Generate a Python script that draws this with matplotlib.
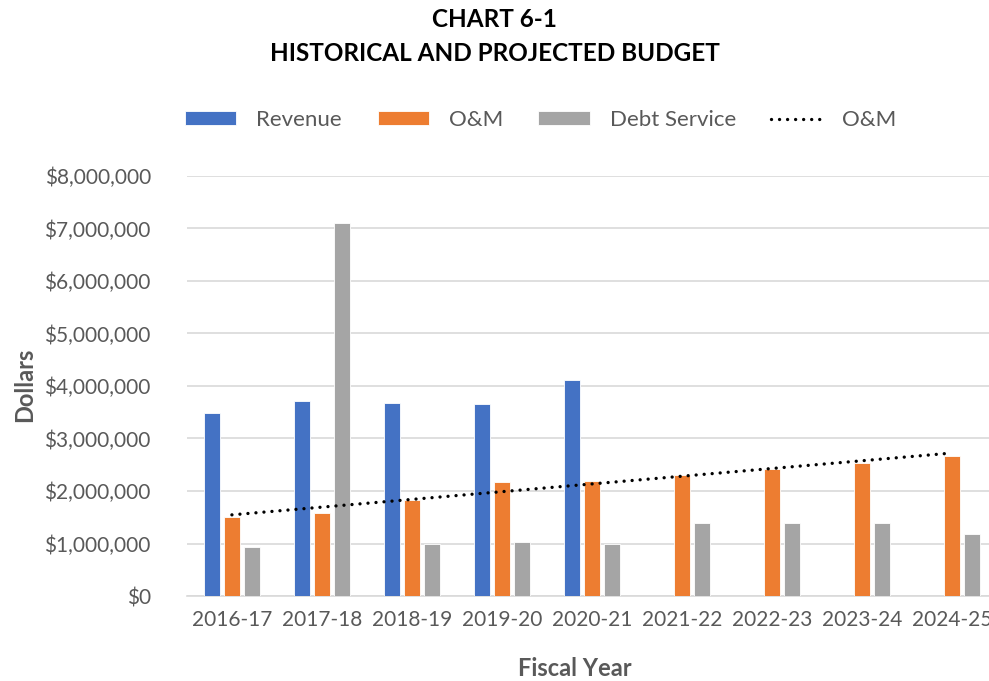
import matplotlib.pyplot as plt
import matplotlib.ticker as mticker
import numpy as np

plt.rcParams['font.family'] = ['Lato', 'DejaVu Sans']

years = ['2016-17', '2017-18', '2018-19', '2019-20', '2020-21',
         '2021-22', '2022-23', '2023-24', '2024-25']
revenue = [3480000, 3710000, 3680000, 3660000, 4110000, np.nan, np.nan, np.nan, np.nan]
om = [1510000, 1580000, 1830000, 2170000, 2190000, 2300000, 2420000, 2540000, 2670000]
debt = [930000, 7100000, 990000, 1030000, 990000, 1390000, 1390000, 1390000, 1190000]

text_gray = '#595959'
grid_gray = '#D9D9D9'

fig = plt.figure(figsize=(9.89, 6.81), dpi=100)
ax = fig.add_axes([0.189, 0.1248, 0.819, 0.6168])

x = np.arange(len(years))
w = 0.178
off = 0.222
b1 = ax.bar(x - off, revenue, w, color='#4472C4', edgecolor='white', linewidth=0.6, zorder=3)
b2 = ax.bar(x, om, w, color='#ED7D31', edgecolor='white', linewidth=0.6, zorder=3)
b3 = ax.bar(x + off, debt, w, color='#A5A5A5', edgecolor='white', linewidth=0.6, zorder=3)

# linear trendline through the O&M series
coef = np.polyfit(x, om, 1)
trend = np.polyval(coef, x)
tl, = ax.plot(x, trend, color='black', linewidth=2.4, linestyle=(0, (0.01, 2.4)),
              dash_capstyle='round', zorder=4)

ax.set_xlim(-0.5, len(years) - 0.5)
ax.set_ylim(0, 8000000)
ax.set_yticks(np.arange(0, 8000001, 1000000))
ax.yaxis.set_major_formatter(mticker.FuncFormatter(lambda v, p: '${:,.0f}'.format(v)))
ax.set_xticks(x)
ax.set_xticklabels(years)
ax.grid(axis='y', color=grid_gray, linewidth=1.2, zorder=0)
for s in ['top', 'right', 'left']:
    ax.spines[s].set_visible(False)
ax.spines['bottom'].set_color(grid_gray)
ax.spines['bottom'].set_linewidth(1.2)
ax.tick_params(axis='both', length=0, labelsize=15, labelcolor=text_gray)
ax.tick_params(axis='y', pad=26)
ax.tick_params(axis='x', pad=10)

fig.text(0.5, 0.972, 'CHART 6-1', ha='center', va='center', fontsize=17.5, fontweight='bold')
fig.text(0.5, 0.921, 'HISTORICAL AND PROJECTED BUDGET', ha='center', va='center',
         fontsize=17.5, fontweight='bold')
fig.text(0.581, 0.019, 'Fiscal Year', ha='center', va='center', fontsize=17,
         fontweight='bold', color=text_gray)
fig.text(0.025, 0.435, 'Dollars', ha='center', va='center', rotation=90, fontsize=17,
         fontweight='bold', color=text_gray)

fig.legend([b1, b2, b3, tl], ['Revenue', 'O&M', 'Debt Service', 'O&M'],
           loc='center', bbox_to_anchor=(0.547, 0.824), ncol=4, frameon=False,
           fontsize=16, labelcolor=text_gray, handlelength=2.3, handleheight=0.55,
           handletextpad=0.9, columnspacing=1.6)

fig.savefig('out.png', dpi=100)
